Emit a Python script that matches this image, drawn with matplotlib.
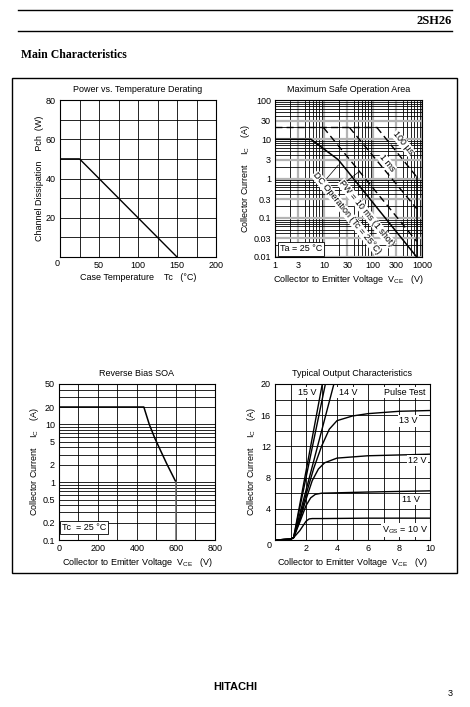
import numpy as np
import matplotlib
matplotlib.use('Agg')
import matplotlib.pyplot as plt
from matplotlib.patches import Rectangle
from matplotlib.lines import Line2D

plt.rcParams['font.family'] = 'Liberation Sans'
plt.rcParams['font.size'] = 6.5
plt.rcParams['mathtext.fontset'] = 'custom'
plt.rcParams['mathtext.rm'] = 'Liberation Sans'

W, H = 470, 707

# ---- data ----
# Power vs. temperature derating
pd_tc = [0, 25, 150]
pd_pch = [50, 50, 0]

# Maximum safe operation area
vlim = 780
dc_v = [1, 5.4, 19.6, vlim]
dc_i = [10, 10, 3, 0.01]
lim_v = [vlim, vlim]
lim_i = [1.1, 0.01]
pulse_v = [1, 120]
pulse_i = [20, 20]
pw10_v = [9.7, vlim]
pw10_i = [20, 0.025]
pw1_v = [33, vlim]
pw1_i = [20, 0.17]
pw100_v = [120, vlim]
pw100_i = [20, 1.1]

# Reverse bias SOA
rb_v = [0, 435, 463, 492, 552, 600]
rb_i = [20, 20, 10, 5.7, 2.1, 1.0]
rb_lim_v = [600, 600]
rb_lim_i = [1.0, 0.1]

# Typical output characteristics
out_curves = {
    '10': ([0, 1.0, 1.2, 1.6, 2.0, 2.2, 2.4, 3, 6, 10],
           [0, 0.1, 0.3, 1.2, 2.4, 2.7, 2.75, 2.75, 2.8, 2.8]),
    '11': ([0, 1.0, 1.2, 1.6, 2.0, 2.3, 2.6, 3, 4, 6, 10],
           [0, 0.1, 0.3, 2.3, 4.4, 5.4, 5.85, 6.0, 6.05, 6.15, 6.3]),
    '12': ([0, 1.0, 1.2, 1.6, 2.0, 2.4, 2.8, 3.2, 4, 6, 10],
           [0, 0.1, 0.3, 2.6, 5.2, 7.6, 9.1, 9.9, 10.5, 10.8, 11.0]),
    '13': ([0, 1.0, 1.2, 1.6, 2.0, 2.5, 3.0, 3.5, 4, 5, 6, 8, 10],
           [0, 0.1, 0.3, 2.8, 5.8, 9.2, 12.0, 14.2, 15.3, 15.9, 16.2, 16.5, 16.6]),
    '14': ([0, 1.0, 1.2, 3.8], [0, 0.1, 0.3, 20]),
    '15a': ([0, 1.0, 1.2, 3.05], [0, 0.1, 0.3, 20]),
    '15b': ([0, 1.0, 1.2, 3.25], [0, 0.1, 0.3, 20]),
}

fig = plt.figure(figsize=(W / 100, H / 100), dpi=100)


def px_axes(x0, y0, x1, y1):
    return fig.add_axes([x0 / W, 1 - y1 / H, (x1 - x0) / W, (y1 - y0) / H])


def px_text(x, y, s, **kw):
    fig.text(x / W, 1 - y / H, s, **kw)


def px_line(x0, y0, x1, y1, lw=1.0):
    fig.add_artist(Line2D([x0 / W, x1 / W], [1 - y0 / H, 1 - y1 / H],
                          transform=fig.transFigure, color='black', lw=lw))


def style(ax):
    ax.tick_params(length=0, pad=3, labelsize=6.5)
    for s in ax.spines.values():
        s.set_linewidth(0.8)


# ---- page frame ----
px_line(18, 10, 452, 10, 1.0)
px_line(18, 31, 452, 31, 1.0)
px_text(452, 21, '2SH26', ha='right', va='center', family='Liberation Serif',
        weight='bold', fontsize=9)
px_text(21, 55, 'Main Characteristics', ha='left', va='center',
        family='Liberation Serif', weight='bold', fontsize=8.5)
fig.add_artist(Rectangle((12 / W, 1 - 573 / H), 445 / W, 495 / H,
                         transform=fig.transFigure, fill=False, lw=1.0))
px_text(235, 687, 'HITACHI', ha='center', va='center', weight='bold', fontsize=8)
px_text(450, 693, '3', ha='center', va='center', fontsize=6.5)

grid_kw = dict(color='black', lw=0.6)

# ---- Power vs. Temperature Derating ----
ax1 = px_axes(60, 100, 216, 257)
ax1.plot(pd_tc, pd_pch, color='black', lw=1.0)
ax1.set_xlim(0, 200)
ax1.set_ylim(0, 80)
ax1.set_xticks([0, 50, 100, 150, 200])
ax1.set_yticks([20, 40, 60, 80])
ax1.set_xticks(np.arange(25, 200, 25), minor=True)
ax1.set_yticks(np.arange(10, 80, 10), minor=True)
ax1.grid(True, which='both', **grid_kw)
ax1.tick_params(which='minor', length=0)
style(ax1)
ax1.set_title('Power vs. Temperature Derating', fontsize=6.5, pad=6)
ax1.set_xlabel('Case Temperature    Tc   (°C)', fontsize=6.5, labelpad=2)
ax1.set_ylabel('Channel Dissipation    Pch  (W)', fontsize=6.5, labelpad=1)
px_text(57, 263, '0', ha='center', va='center', fontsize=6.5)
ax1.set_xticklabels(['', '50', '100', '150', '200'])

# ---- Maximum Safe Operation Area ----
ax2 = px_axes(275, 100, 422, 257)
ax2.set_xscale('log')
ax2.set_yscale('log')
ax2.set_xlim(1, 1000)
ax2.set_ylim(0.01, 100)
ax2.grid(True, which='minor', **grid_kw)
ax2.grid(True, which='major', color='#b4b4b4', lw=1.6)
ax2.set_axisbelow(True)
ax2.plot(dc_v, dc_i, color='black', lw=1.1)
ax2.plot(lim_v, lim_i, color='black', lw=1.1)
for v, i in [(pulse_v, pulse_i), (pw10_v, pw10_i), (pw1_v, pw1_i), (pw100_v, pw100_i)]:
    ax2.plot(v, i, color='black', lw=1.0, ls=(0, (5, 3)))
ax2.set_xticks([1, 3, 10, 30, 100, 300, 1000])
ax2.set_xticklabels(['1', '3', '10', '30', '100', '300', '1000'])
ax2.set_yticks([0.01, 0.03, 0.1, 0.3, 1, 3, 10, 30, 100])
ax2.set_yticklabels(['0.01', '0.03', '0.1', '0.3', '1', '3', '10', '30', '100'])
ax2.tick_params(which='minor', length=0, labelleft=False, labelbottom=False)
style(ax2)
ax2.set_title('Maximum Safe Operation Area', fontsize=6.5, pad=6)
ax2.set_xlabel('Collector to Emitter Voltage  V$_{\\mathrm{CE}}$   (V)', fontsize=6.5, labelpad=2)
ax2.set_ylabel('Collector Current    I$_{\\mathrm{C}}$    (A)', fontsize=6.5, labelpad=1)
lbl = dict(fontsize=6.5, ha='center', va='center', rotation=-51,
           bbox=dict(facecolor='white', edgecolor='none', pad=0.3))
ax2.text(410, 8.0, '100 µs', **lbl)
ax2.text(193, 2.5, '1 ms', **lbl)
ax2.text(74, 0.13, 'PW = 10 ms (1 shot)', **lbl)
ax2.text(29.4, 0.13, 'DC Operation (Tc = 25°C)', **lbl)
# leaders from the labels to their lines
ax2.plot([11.4, 19.6], [1.0, 2.2], color='black', lw=0.5)
ax2.plot([23, 50], [0.68, 1.44], color='black', lw=0.5)
ax2.text(1.25, 0.016, 'Ta = 25 °C', fontsize=6.5, ha='left', va='center',
         bbox=dict(facecolor='white', edgecolor='black', lw=0.6, pad=1.5))

# ---- Reverse Bias SOA ----
ax3 = px_axes(59, 384, 215, 540)
ax3.set_yscale('log')
ax3.set_xlim(0, 800)
ax3.set_ylim(0.1, 50)
ax3.set_xticks([0, 200, 400, 600, 800])
ax3.set_xticks(np.arange(100, 800, 100), minor=True)
ax3.set_yticks([0.1, 0.2, 0.5, 1, 2, 5, 10, 20, 50])
ax3.set_yticklabels(['0.1', '0.2', '0.5', '1', '2', '5', '10', '20', '50'])
ax3.grid(True, which='both', **grid_kw)
ax3.plot(rb_v, rb_i, color='black', lw=1.1)
ax3.plot(rb_lim_v, rb_lim_i, color='#666666', lw=1.1)
ax3.tick_params(which='minor', length=0, labelleft=False)
style(ax3)
ax3.set_title('Reverse Bias SOA', fontsize=6.5, pad=6)
ax3.set_xlabel('Collector to Emitter Voltage  V$_{\\mathrm{CE}}$   (V)', fontsize=6.5, labelpad=2)
ax3.set_ylabel('Collector Current    I$_{\\mathrm{C}}$    (A)', fontsize=6.5, labelpad=1)
ax3.text(15, 0.165, 'Tc  = 25 °C', fontsize=6.5, ha='left', va='center',
         bbox=dict(facecolor='white', edgecolor='black', lw=0.6, pad=1.5))

# ---- Typical Output Characteristics ----
ax4 = px_axes(275, 384, 430, 540)
ax4.set_xlim(0, 10)
ax4.set_ylim(0, 20)
ax4.set_xticks([0, 2, 4, 6, 8, 10])
ax4.set_yticks([4, 8, 12, 16, 20])
ax4.set_xticks(np.arange(1, 10, 1), minor=True)
ax4.set_yticks(np.arange(2, 20, 2), minor=True)
ax4.grid(True, which='both', **grid_kw)
ax4.tick_params(which='minor', length=0)
for k, (v, i) in out_curves.items():
    ax4.plot(v, i, color='black', lw=1.0)
style(ax4)
ax4.set_title('Typical Output Characteristics', fontsize=6.5, pad=6)
ax4.set_xlabel('Collector to Emitter Voltage  V$_{\\mathrm{CE}}$   (V)', fontsize=6.5, labelpad=2)
ax4.set_ylabel('Collector Current    I$_{\\mathrm{C}}$    (A)', fontsize=6.5, labelpad=2)
ax4.set_xticklabels(['', '2', '4', '6', '8', '10'])
px_text(269, 545, '0', ha='center', va='center', fontsize=6.5)
wb = dict(facecolor='white', edgecolor='none', pad=1)
ax4.text(2.05, 18.9, '15 V', ha='center', va='center', bbox=wb)
ax4.text(4.7, 18.9, '14 V', ha='center', va='center', bbox=wb)
ax4.text(8.35, 18.9, 'Pulse Test', ha='center', va='center', bbox=wb)
ax4.text(8.6, 15.3, '13 V', ha='center', va='center', bbox=wb)
ax4.text(9.2, 10.2, '12 V', ha='center', va='center', bbox=wb)
ax4.text(8.8, 5.2, '11 V', ha='center', va='center', bbox=wb)
ax4.text(8.4, 1.3, 'V$_{\\mathrm{GS}}$ = 10 V', ha='center', va='center', bbox=wb)

fig.savefig('out.png', dpi=100)
